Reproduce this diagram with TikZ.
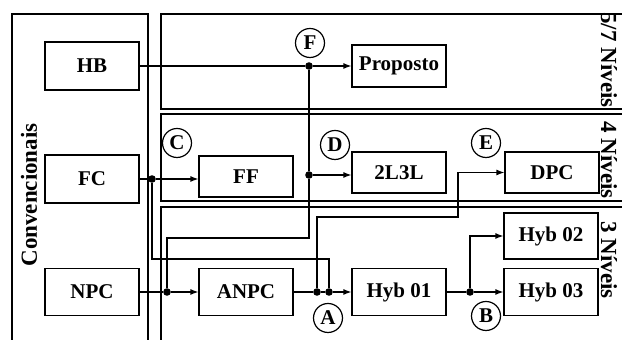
\documentclass[tikz,border=0pt]{standalone}
\usepackage{fontspec}
\setmainfont{Liberation Serif}
\usetikzlibrary{arrows.meta}
\begin{document}
\begin{tikzpicture}[x=0.5pt, y=-0.5pt, line width=0.6pt,
  blok/.style={draw, minimum width=47pt, minimum height=#1, inner sep=0pt, font=\bfseries\fontsize{10.5}{12}\selectfont},
  letra/.style={draw, circle, minimum size=14.5pt, inner sep=0pt, font=\bfseries\fontsize{10.5}{12}\selectfont},
  ponto/.style={circle, fill, minimum size=3.8pt, inner sep=0pt},
  seta/.style={-{Latex[length=4pt,width=3pt]}},
  painel/.style={line width=0.8pt},
  nivel/.style={inner sep=0pt, font=\bfseries\fontsize{11.5}{13}\selectfont}]
  \clip (0,0) rectangle (622,340);
  % paineis
  \draw[painel] (12,14) rectangle (148,350);
  \draw[painel] (161,14) rectangle (640,109);
  \draw[painel] (161,114) rectangle (640,201);
  \draw[painel] (161,207) rectangle (640,350);
  \node[nivel, rotate=90] (conv) at (29,195) {Convencionais};
  \node[nivel, rotate=-90] (n57) at (609,60) {5/7 Níveis};
  \node[nivel, rotate=-90] (n4) at (609,160) {4 Níveis};
  \node[nivel, rotate=-90] (n3) at (609,260) {3 Níveis};
  % blocos
  \foreach \n/\x/\y/\h/\t in {hb/92/66/24/HB, fc/92/179/24/FC, npc/92/292/23.5/NPC,
      ff/246/176.5/20.5/FF, anpc/246/292/23.5/ANPC, prop/399/66/21/Proposto,
      tlt/399/172.5/20.5/2L3L, dpc/552/172.5/20.5/DPC, hyb1/399/292/23.5/Hyb 01,
      hyb2/551/236/23/Hyb 02, hyb3/551/292/23.5/Hyb 03}
    \node[blok=\h pt] (\n) at (\x,\y) {\t};
  \foreach \n/\x/\y in {dF/309/66, dC/152/179, dD/309/175, dN/167/292, dA/317/292, dAA/329/292, dB/470/292}
    \node[ponto] (\n) at (\x,\y) {};
  \foreach \l/\x/\y in {A/328/318, B/486/316, C/177/143, D/335/145, E/486/143, F/310/43}
    \node[letra] (l\l) at (\x,\y) {\l};
  % ligacoes
  \draw (hb) -- (dF);
  \draw[seta] (dF) -- (prop);
  \draw (fc) -- (dC);
  \draw[seta] (dC) -- (dC -| ff.west);
  \draw (npc) -- (dN);
  \draw[seta] (dN) -- (anpc);
  \draw (anpc) -- (dA) -- (dAA);
  \draw[seta] (dAA) -- (hyb1);
  \draw (hyb1) -- (dB);
  \draw[seta] (dB) -- (hyb3);
  \draw[seta] (dB) |- (hyb2);
  \draw (dN) -- ++(0,-54) -| (dD) -- (dF);
  \draw[seta] (dD) -- (dD -| tlt.west);
  \draw (dC) -- ++(0,80) -| (dAA);
  \draw[seta] (dA) |- (458,217) |- (dpc.west);
\end{tikzpicture}
\end{document}
